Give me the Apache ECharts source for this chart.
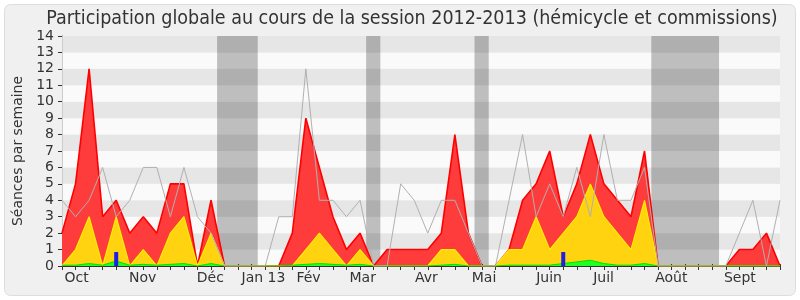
<!DOCTYPE html>
<html>
<head>
<meta charset="utf-8">
<script src="https://cdn.jsdelivr.net/npm/echarts@6/dist/echarts.min.js"></script>
<style>
html,body{margin:0;padding:0;background:#ffffff;}
#chart{width:800px;height:300px;}
</style>
</head>
<body>
<div id="chart"></div>
<script>
// Weekly values, session 2012-2013 (54 weeks, index 0 = first week of October)
const totalWeek = [2,5,12,3,4,2,3,2,5,5,0,4,0,0,0,0,0,2,9,6,3,1,2,0,1,1,1,1,2,8,2,0,0,1,4,5,7,3,5,8,5,4,3,7,0,0,0,0,0,0,1,1,2,0];
const hemicycleWeek = [0,1,3,0,3,0,1,0,2,3,0,2,0,0,0,0,0,0,1,2,1,0,1,0,0,0,0,0,1,1,0,0,0,1,1,3,1,2,3,5,3,2,1,4,0,0,0,0,0,0,0,0,0,0];
const interventionsWeek = [0.05,0.05,0.15,0.05,0.3,0.05,0.1,0.05,0.1,0.15,0,0.15,0,0,0,0,0,0.05,0.1,0.15,0.1,0.05,0.1,0,0,0,0,0,0.05,0.1,0,0,0,0.05,0.05,0.05,0.05,0.15,0.25,0.35,0.15,0.05,0.05,0.15,0,0,0,0,0,0,0,0,0,0];
const questionsWeek = [0,0,0,0,0.85,0,0,0,0,0,0,0,0,0,0,0,0,0,0,0,0,0,0,0,0,0,0,0,0,0,0,0,0,0,0,0,0,0.85,0,0,0,0,0,0,0,0,0,0,0,0,0,0,0,0];
const medianWeek = [4,3,4,6,3,4,6,6,3,6,3,2,0,0,0,0,3,3,12,4,4,3,4,0,0,5,4,2,4,4,2,0,0,4,8,3,5,3,6,3,8,4,4,6,0,0,0,0,0,0,2,4,0,4];
const monthLabels = ['Oct','Nov','Déc','Jan 13','Fév','Mar','Avr','Mai','Juin','Juil','Août','Sept'];
const monthLabelWeek = [1.08,5.96,10.95,14.87,18.2,22.2,26.9,31.15,35.95,39.98,44.98,50.04];
const vacationStart = [11.45,22.45,30.45,43.5];
const vacationEnd = [14.45,23.5,31.5,48.5];
const titleText = 'Participation globale au cours de la session 2012-2013 (hémicycle et commissions)';

const pairs = arr => arr.map((v,i)=>[i,v]);
const labelMap = {};
monthLabelWeek.forEach((w,i)=>{labelMap[w.toFixed(2)] = monthLabels[i];});

const chart = echarts.init(document.getElementById('chart'), null, {renderer:'canvas'});
const FONT = 'DejaVu Sans';
chart.setOption({
  animation:false,
  backgroundColor:'#ffffff',
  graphic:[{
    type:'rect', z:-10, silent:true,
    shape:{x:4.5,y:4.5,width:791,height:291,r:6},
    style:{fill:'#f0f0f0',stroke:'#dddddd',lineWidth:1}
  },{
    type:'text', z:10, silent:true, x:412, y:19,
    style:{text:titleText, textAlign:'center', textVerticalAlign:'middle',
      fontFamily:'DejaVu Sans Condensed', fontSize:19.5, fill:'#333333'}
  }],
  grid:{left:62,right:20,top:36,bottom:34,containLabel:false},
  xAxis:[{
    type:'value', min:0, max:53, interval:1, position:'bottom',
    axisLine:{show:true,onZero:false,lineStyle:{color:'#333333',width:1}},
    axisTick:{show:true,length:4,lineStyle:{color:'#333333'}},
    splitLine:{show:false},
    axisLabel:{
      customValues: monthLabelWeek,
      formatter: v => labelMap[Number(v).toFixed(2)] || '',
      fontFamily:FONT, fontSize:14, color:'#333333', margin:5
    }
  },{
    type:'value', min:0, max:53, interval:1, position:'top',
    axisLine:{show:false},
    axisTick:{show:true,length:2,lineStyle:{color:'#444444'}},
    axisLabel:{show:false}, splitLine:{show:false}
  }],
  yAxis:[{
    type:'value', min:0, max:14, interval:1,
    name:'Séances par semaine', nameLocation:'middle', nameGap:37, nameRotate:90,
    nameTextStyle:{fontFamily:FONT, fontSize:14, color:'#333333'},
    axisLine:{show:true,lineStyle:{color:'#333333'}},
    axisTick:{show:true,length:4,lineStyle:{color:'#333333'}},
    axisLabel:{fontFamily:FONT, fontSize:14, color:'#333333', margin:8},
    splitLine:{show:false},
    splitArea:{show:true, areaStyle:{color:['#fafafa','#e6e6e6']}}
  },{
    type:'value', min:0, max:14, interval:1, position:'right',
    axisLine:{show:true,lineStyle:{color:'#cccccc'}},
    axisTick:{show:false}, axisLabel:{show:false}, splitLine:{show:false}
  }],
  series:[
    {
      type:'line', z:1, data:[], silent:true,
      markArea:{silent:true, itemStyle:{color:'rgba(0,0,0,0.24)'},
        data: vacationStart.map((s,i)=>[{xAxis:s},{xAxis:vacationEnd[i]}])}
    },
    {
      name:'Commissions', type:'line', z:2, data:pairs(totalWeek), showSymbol:false,
      lineStyle:{color:'#ff0000',width:1.6}, areaStyle:{color:'#ff3c3c',opacity:1}
    },
    {
      name:'Hémicycle', type:'line', z:3, data:pairs(hemicycleWeek), showSymbol:false,
      lineStyle:{color:'#ffee00',width:1.2}, areaStyle:{color:'#ffd30f',opacity:1}
    },
    {
      name:'Interventions', type:'line', z:4, data:pairs(interventionsWeek), showSymbol:false,
      lineStyle:{color:'#00e000',width:1}, areaStyle:{color:'#22ff22',opacity:1}
    },
    {
      name:'Questions', type:'bar', z:5, data:pairs(questionsWeek), barWidth:4,
      itemStyle:{color:'#1e1ee6'}
    },
    {
      name:'Médiane', type:'line', z:6, data:pairs(medianWeek), showSymbol:false,
      lineStyle:{color:'#b0b0b0',width:1}
    }
  ]
});
</script>
</body>
</html>
